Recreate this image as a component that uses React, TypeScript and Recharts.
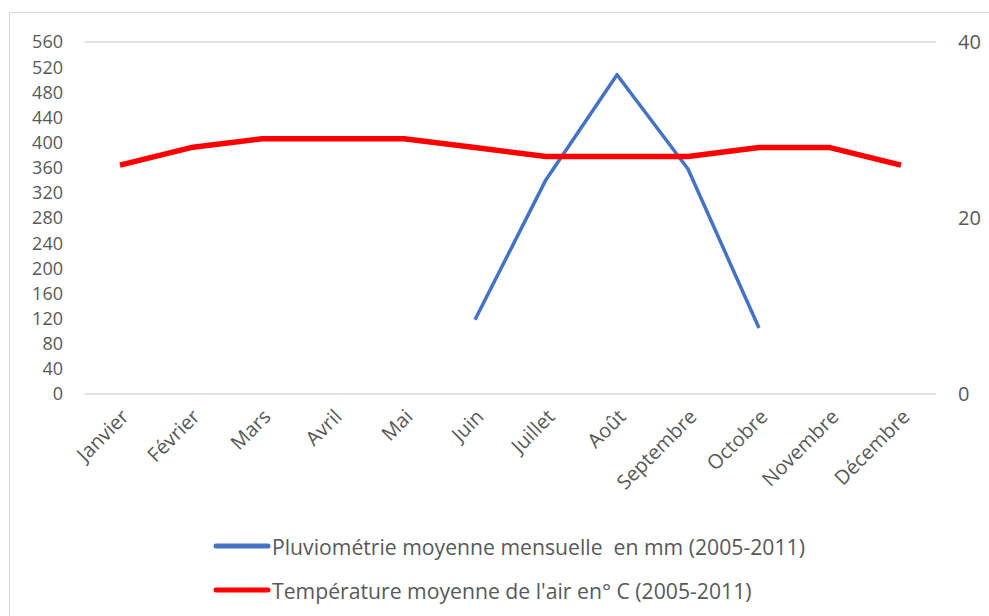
import React from "react";
import { LineChart, Line, XAxis, YAxis, CartesianGrid, Legend } from "recharts";

const months = ["Janvier", "Février", "Mars", "Avril", "Mai", "Juin", "Juillet", "Août", "Septembre", "Octobre", "Novembre", "Décembre"];
const rainfall: (number | null)[] = [null, null, null, null, null, 118, 341, 508, 358, 105, null, null];
const temperature = [26, 28, 29, 29, 29, 28, 27, 27, 27, 28, 28, 26];
const leftTicks = [0, 40, 80, 120, 160, 200, 240, 280, 320, 360, 400, 440, 480, 520, 560];
const rightTicks = [0, 20, 40];
const rainLabel = "Pluviométrie moyenne mensuelle  en mm (2005-2011)";
const tempLabel = "Température moyenne de l'air en° C (2005-2011)";

const data = months.map((m, i) => ({ month: m, rain: rainfall[i], temp: temperature[i] }));

const FONT = "'Open Sans', sans-serif";
const TXT = "#595959";

const LegendContent = () => (
  <div style={{ position: "relative", width: 989, height: 80, fontFamily: FONT }}>
    {[
      { c: "#4472C4", t: rainLabel, y: 0 },
      { c: "#FF0000", t: tempLabel, y: 44 },
    ].map((r) => (
      <div key={r.t} style={{ position: "absolute", left: 213, top: r.y, height: 24, display: "flex", alignItems: "center", whiteSpace: "pre" }}>
        <svg width={58} height={10} style={{ display: "block" }}>
          <line x1={3} y1={5} x2={55} y2={5} stroke={r.c} strokeWidth={5} strokeLinecap="round" />
        </svg>
        <span style={{ color: TXT, fontSize: 21.2, marginLeft: 1 }}>{r.t}</span>
      </div>
    ))}
  </div>
);

export default function App() {
  return (
    <div style={{ position: "absolute", left: 0, top: 0, width: 989, height: 616, background: "#fff", overflow: "hidden" }}>
      <div style={{ position: "absolute", left: 9, top: 12, width: 1000, height: 700, borderLeft: "1.5px solid #d9d9d9", borderTop: "1.5px solid #d9d9d9" }} />
      <LineChart width={989} height={616} data={data} margin={{ top: 42, right: 3, left: 25, bottom: 122 }}>
        <CartesianGrid vertical={false} stroke="#d9d9d9" strokeWidth={1.5} />
        <XAxis
          dataKey="month"
          axisLine={false}
          tickLine={false}
          interval={0}
          height={100}
          angle={-45}
          textAnchor="end"
          tickSize={0}
          tickMargin={14}
          padding={{ left: 35, right: 35 }}
          tick={{ fill: TXT, fontSize: 20, fontFamily: FONT }}
        />
        <YAxis
          yAxisId="left"
          domain={[0, 560]}
          ticks={leftTicks}
          interval={0}
          width={60}
          axisLine={false}
          tickLine={false}
          tickSize={0}
          tickMargin={22}
          tick={{ fill: TXT, fontSize: 18, fontFamily: FONT }}
        />
        <YAxis
          yAxisId="right"
          orientation="right"
          domain={[0, 40]}
          ticks={rightTicks}
          interval={0}
          width={50}
          axisLine={false}
          tickLine={false}
          tickSize={0}
          tickMargin={22}
          tick={{ fill: TXT, fontSize: 20, fontFamily: FONT }}
        />
        <Legend
          layout="vertical"
          align="center"
          verticalAlign="middle"
          wrapperStyle={{ top: 534, left: 0, width: 989 }}
          content={() => <LegendContent />}
        />
        <Line yAxisId="left" type="linear" dataKey="rain" name={rainLabel} stroke="#4472C4" strokeWidth={3.5} dot={false} connectNulls={false} isAnimationActive={false} strokeLinejoin="round" />
        <Line yAxisId="right" type="linear" dataKey="temp" name={tempLabel} stroke="#FF0000" strokeWidth={5.5} dot={false} isAnimationActive={false} strokeLinejoin="round" />
      </LineChart>
    </div>
  );
}
